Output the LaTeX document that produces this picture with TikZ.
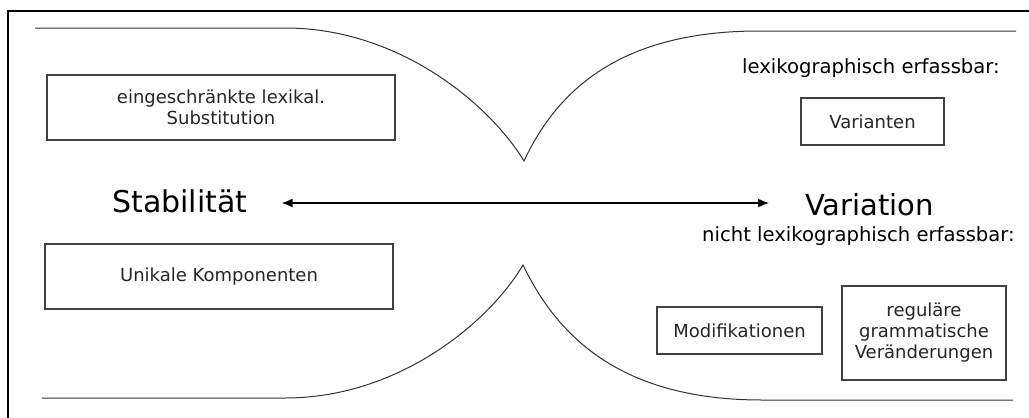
\documentclass[tikz,border=0pt]{standalone}
\usepackage{fontspec}
\setmainfont{DejaVu Sans}
\usetikzlibrary{arrows.meta}
\tikzset{
  frame/.style={line width=1.4pt, black},
  funnel/.style={line width=1pt, black!80},
  itembox/.style={draw=black!75, line width=1.3pt, align=center, inner sep=0pt,
    text=black!85, font=\fontsize{18}{21}\selectfont},
  pole/.style={anchor=base west, inner sep=0pt, font=\fontsize{30}{36}\selectfont},
  heading/.style={anchor=base west, inner sep=0pt, font=\fontsize{19.6}{24}\selectfont},
  scale arrow/.style={line width=1.5pt, {Latex[length=11pt,width=9pt]}-{Latex[length=11pt,width=9pt]}}
}
\begin{document}
\begin{tikzpicture}[x=1pt,y=-1pt]
\useasboundingbox (0,0) rectangle (1029,418);
\fill[white] (0,0) rectangle (1029,418);

% outer frame (top and left edges)
\draw[frame] (1029,11) -- (8,11) -- (8,418);

% upper and lower funnel outlines
\draw[funnel] (35,28) -- (285,28)
  .. controls (400,28) and (490,105) .. (524,161)
  .. controls (555,95) and (615,31) .. (759,31) -- (1016,31);
\draw[funnel] (42,398) -- (285,398)
  .. controls (400,398) and (490,321) .. (523,265)
  .. controls (555,331) and (615,400) .. (762,400) -- (1013,400);

% poles of the scale
\node[pole] (stab) at (112,212) {Stabilität};
\node[pole, font=\fontsize{29}{35}\selectfont] (var) at (805,215) {Variation};
\coordinate (axis) at (0,203);
\draw[scale arrow, shorten <=34pt, shorten >=36pt] (stab.east |- axis) -- (var.west |- axis);

% headings on the variation side
\node[heading] (lex) at (742,73) {lexikographisch erfassbar:};
\node[heading] (nlex) at (702,241) {nicht lexikographisch erfassbar:};

% boxes
\node[itembox, minimum width=348pt, minimum height=65pt] (subst) at (221,107.5)
  {eingeschränkte lexikal.\\Substitution};
\node[itembox, minimum width=348pt, minimum height=65pt] (unik) at (219,276.5)
  {Unikale Komponenten};
\node[itembox, minimum width=143pt, minimum height=47pt] (varianten) at (872.5,121.5)
  {Varianten};
\node[itembox, minimum width=165pt, minimum height=47pt] (modif) at (739.5,330.5)
  {Modifikationen};
\node[itembox, minimum width=164pt, minimum height=94pt] (gramm) at (924,333)
  {reguläre\\grammatische\\Veränderungen};
\end{tikzpicture}
\end{document}
